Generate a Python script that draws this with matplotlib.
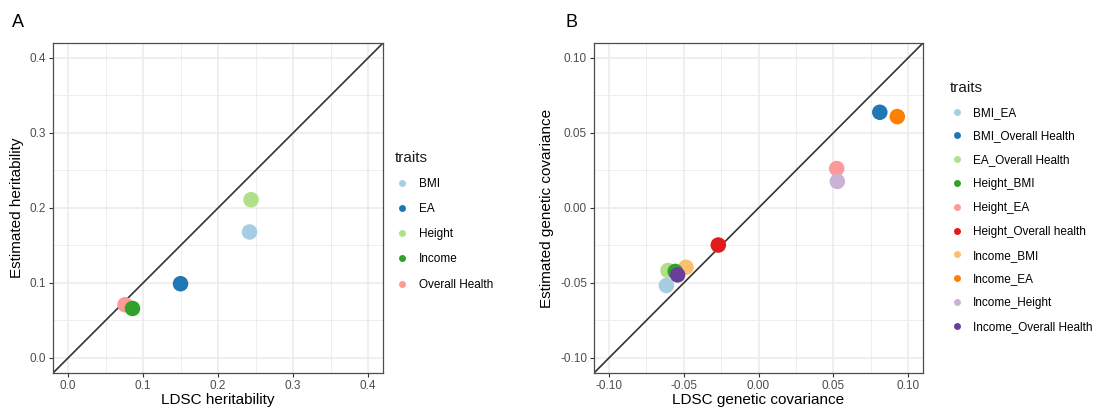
import numpy as np
import matplotlib.pyplot as plt
from matplotlib.lines import Line2D
from matplotlib.ticker import MultipleLocator

plt.rcParams['font.family'] = ['Liberation Sans', 'DejaVu Sans']

# heritability per trait
h2_traits = ['BMI', 'EA', 'Height', 'Income', 'Overall Health']
h2_ldsc = [0.242, 0.150, 0.244, 0.086, 0.076]
h2_est = [0.168, 0.099, 0.211, 0.066, 0.071]

# genetic covariance per trait pair
cov_traits = ['BMI_EA', 'BMI_Overall Health', 'EA_Overall Health', 'Height_BMI',
              'Height_EA', 'Height_Overall health', 'Income_BMI', 'Income_EA',
              'Income_Height', 'Income_Overall Health']
cov_ldsc = [-0.0616, 0.0811, -0.0605, -0.0557, 0.0523, -0.0269, -0.0485, 0.0928, 0.0527, -0.0541]
cov_est = [-0.0517, 0.0638, -0.0417, -0.0423, 0.0263, -0.0247, -0.0395, 0.0609, 0.0177, -0.0446]

paired = ['#A6CEE3', '#1F78B4', '#B2DF8A', '#33A02C', '#FB9A99',
          '#E31A1C', '#FDBF6F', '#FF7F00', '#CAB2D6', '#6A3D9A']
h2_colors = ['#A6CEE3', '#1F78B4', '#B2DF8A', '#33A02C', '#FB9A99']

# order in which the points get drawn (later ones sit on top)
h2_order = [0, 1, 2, 4, 3]
cov_order = [0, 2, 6, 3, 9, 1, 4, 5, 7, 8]


def style_panel(ax, major, minor):
    ax.xaxis.set_major_locator(MultipleLocator(major))
    ax.yaxis.set_major_locator(MultipleLocator(major))
    ax.xaxis.set_minor_locator(MultipleLocator(minor))
    ax.yaxis.set_minor_locator(MultipleLocator(minor))
    ax.grid(which='major', color='#EBEBEB', lw=1.1, zorder=0)
    ax.grid(which='minor', color='#EBEBEB', lw=0.6, zorder=0)
    ax.set_axisbelow(True)
    for s in ax.spines.values():
        s.set_color('#4D4D4D')
        s.set_linewidth(0.9)
    ax.tick_params(which='major', length=3, width=0.8, color='#333333',
                   labelsize=8.5, labelcolor='#4D4D4D', pad=2)
    ax.tick_params(which='minor', length=0)


def add_legend(fig, ax, labels, colors, x, y, spacing):
    handles = [Line2D([], [], ls='none', marker='o', ms=5, mec='none', mfc=c) for c in colors]
    leg = ax.legend(handles, labels, title='traits', loc='upper left',
                    bbox_to_anchor=(x, y), bbox_transform=fig.transFigure,
                    frameon=False, fontsize=8.5, title_fontsize=11,
                    labelspacing=spacing, handletextpad=0.8, handlelength=1.2,
                    borderaxespad=0)
    leg._legend_box.align = 'left'
    leg.get_title().set_color('#1A1A1A')
    return leg


fig = plt.figure(figsize=(11.09, 4.12), dpi=100)

# panel A: heritability
ax1 = fig.add_axes([0.0478, 0.0947, 0.2976, 0.8010])
for i in h2_order:
    ax1.scatter(h2_ldsc[i], h2_est[i], s=125, color=h2_colors[i], edgecolors='none', zorder=3)
ax1.axline((0, 0), slope=1, color='#333333', lw=1.2, zorder=2)
style_panel(ax1, 0.1, 0.05)
ax1.set_xlim(-0.02, 0.42)
ax1.set_ylim(-0.02, 0.42)
ax1.xaxis.set_major_formatter(lambda v, p: f'{v:.1f}')
ax1.yaxis.set_major_formatter(lambda v, p: f'{v:.1f}')
ax1.set_xlabel('LDSC heritability', fontsize=11, labelpad=1)
ax1.set_ylabel('Estimated heritability', fontsize=11, labelpad=4)
add_legend(fig, ax1, h2_traits, h2_colors, 0.352, 0.646, 1.12)

# panel B: genetic covariance
ax2 = fig.add_axes([0.5356, 0.0947, 0.2967, 0.8010])
for i in cov_order:
    ax2.scatter(cov_ldsc[i], cov_est[i], s=125, color=paired[i], edgecolors='none', zorder=3)
ax2.axline((0, 0), slope=1, color='#333333', lw=1.2, zorder=2)
style_panel(ax2, 0.05, 0.025)
ax2.set_xlim(-0.11, 0.11)
ax2.set_ylim(-0.11, 0.11)
ax2.xaxis.set_major_formatter(lambda v, p: f'{v:.2f}')
ax2.yaxis.set_major_formatter(lambda v, p: f'{v:.2f}')
ax2.set_xlabel('LDSC genetic covariance', fontsize=11, labelpad=1)
ax2.set_ylabel('Estimated genetic covariance', fontsize=11, labelpad=4)
add_legend(fig, ax2, cov_traits, paired, 0.852, 0.815, 1.0)

fig.text(0.011, 0.945, 'A', fontsize=13, va='center')
fig.text(0.510, 0.945, 'B', fontsize=13, va='center')

fig.savefig('out.png', dpi=100)
